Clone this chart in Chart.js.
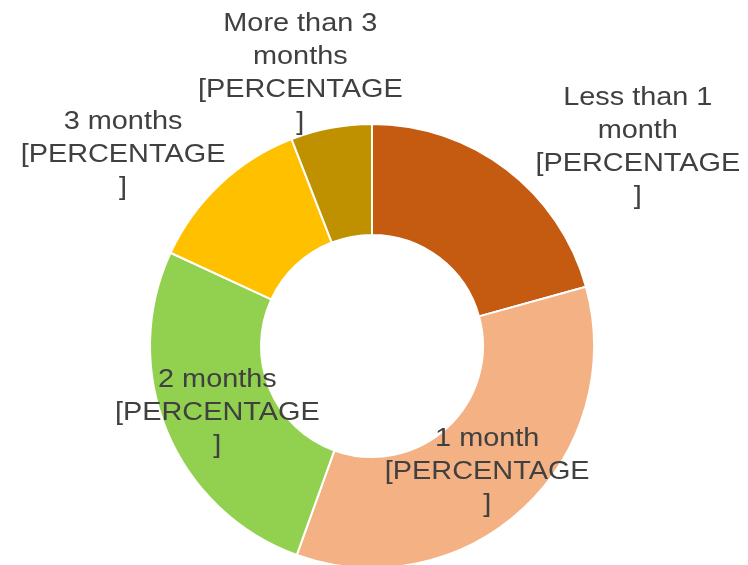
<!DOCTYPE html>
<html>
<head>
<meta charset="utf-8">
<script src="https://cdn.jsdelivr.net/npm/chart.js@4/dist/chart.umd.min.js"></script>
<style>
    html, body { margin: 0; padding: 0; background: #fff; overflow: hidden; }
    #wrap { position: relative; width: 748px; height: 570px; }
</style>
</head>
<body>
<div id="wrap"><canvas id="durationChart"></canvas></div>
<script>
// Chart data
const categories = ['Less than 1 month', '1 month', '2 months', '3 months', 'More than 3 months'];
const shares = [20.7, 34.8, 26.4, 12.2, 5.9];
const sliceColors = ['#C55A11', '#F4B183', '#92D050', '#FFC000', '#BF9000'];

// Label text, as wrapped in the original
const labelLines = [
    ['Less than 1', 'month', '[PERCENTAGE', ']'],
    ['1 month', '[PERCENTAGE', ']'],
    ['2 months', '[PERCENTAGE', ']'],
    ['3 months', '[PERCENTAGE', ']'],
    ['More than 3', 'months', '[PERCENTAGE', ']']
];

// Shift of each label from its slice centre (outer labels sit outside the ring)
const labelShift = [
    { dx: 165, dy: -66 },
    { dx: 2, dy: 4 },
    { dx: -1, dy: 3 },
    { dx: -135, dy: -70 },
    { dx: -41, dy: -109 }
];

// Draw the multi-line data labels
const sliceLabels = {
    id: 'sliceLabels',
    afterDraw(chart) {
        const ctx = chart.ctx;
        const arcs = chart.getDatasetMeta(0).data;
        const lineHeight = 33;
        ctx.save();
        ctx.font = '26px "Liberation Sans", Arial, sans-serif';
        ctx.fillStyle = '#404040';
        ctx.textAlign = 'center';
        ctx.textBaseline = 'middle';
        arcs.forEach((arc, i) => {
            const p = arc.getCenterPoint();
            const lines = labelLines[i];
            ctx.save();
            ctx.translate(p.x + labelShift[i].dx, p.y + labelShift[i].dy);
            ctx.scale(1.11, 1); // original text is drawn a bit wide
            const y0 = -(lines.length - 1) * lineHeight / 2;
            lines.forEach((line, j) => {
                ctx.fillText(line, 0, y0 + j * lineHeight);
            });
            ctx.restore();
        });
        ctx.restore();
    }
};

new Chart(document.getElementById('durationChart'), {
    type: 'doughnut',
    data: {
        labels: categories,
        datasets: [{
            data: shares,
            backgroundColor: sliceColors,
            borderColor: '#ffffff',
            borderWidth: 2
        }]
    },
    options: {
        responsive: true,
        maintainAspectRatio: false,
        animation: false,
        cutout: '50%',
        layout: {
            padding: { top: 123, bottom: 1, left: 0, right: 4 }
        },
        plugins: {
            legend: { display: false },
            tooltip: { enabled: false }
        }
    },
    plugins: [sliceLabels]
});
</script>
</body>
</html>
